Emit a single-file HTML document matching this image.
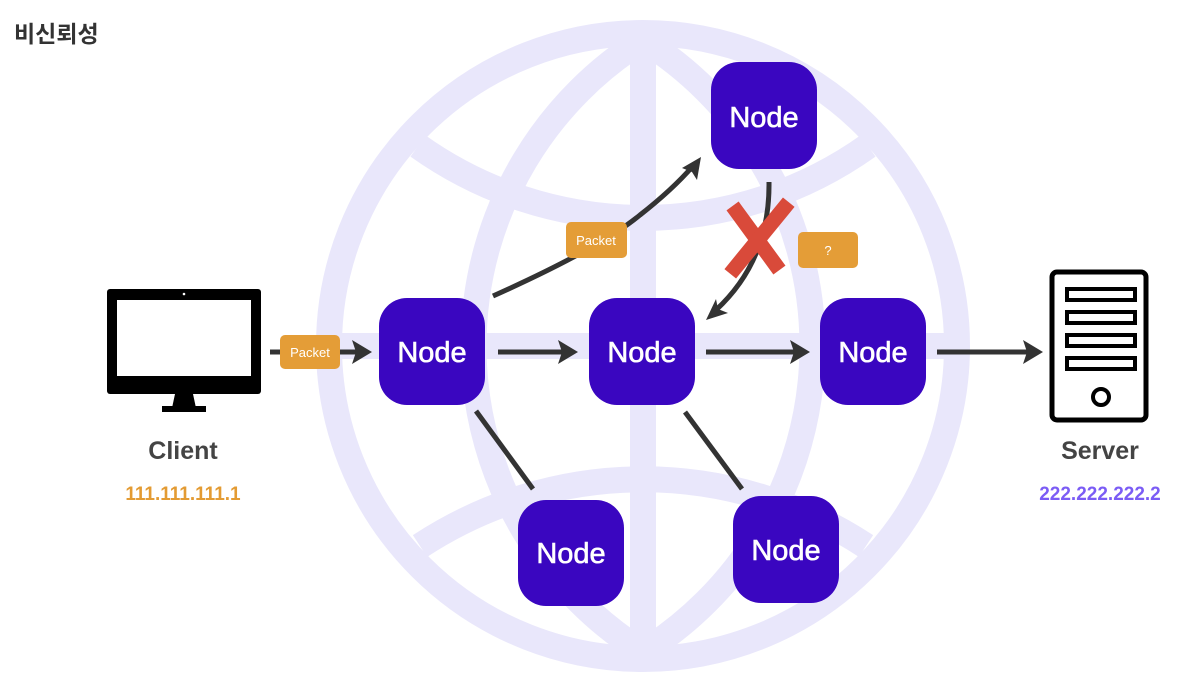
<!DOCTYPE html>
<html><head><meta charset="utf-8"><style>
html,body{margin:0;padding:0;background:#fff;}
svg{display:block;}
</style></head><body>
<svg width="1186" height="686" viewBox="0 0 1186 686" xmlns="http://www.w3.org/2000/svg" font-family="Liberation Sans, Noto Sans CJK KR, sans-serif">
<!-- globe -->
<g fill="none" stroke="#e9e7fb" stroke-width="26">
<ellipse cx="643" cy="346" rx="314" ry="313"/>
<path d="M643 40 A361 361 0 0 0 643 652"/>
<path d="M643 40 A361 361 0 0 1 643 652"/>
<line x1="643" y1="35" x2="643" y2="660"/>
<line x1="335" y1="346" x2="955" y2="346"/>
<path d="M418 146 A388 388 0 0 0 868 146"/>
<path d="M420 546 A406 406 0 0 1 866 546"/>
</g>
<text x="14" y="42" font-size="23" font-weight="bold" fill="#333">비신뢰성</text>
<!-- client monitor -->
<rect x="107" y="289" width="154" height="105" rx="3" fill="#000"/>
<rect x="117" y="300" width="134" height="76" fill="#fff"/>
<circle cx="184" cy="294" r="1.3" fill="#fff"/>
<polygon points="175,394 193,394 196,408 172,408" fill="#000"/>
<rect x="162" y="406" width="44" height="6" fill="#000"/>
<text x="183" y="459" font-size="25" font-weight="bold" fill="#444" text-anchor="middle">Client</text>
<text x="183" y="500" font-size="19" font-weight="bold" fill="#e39b33" text-anchor="middle">111.111.111.1</text>
<!-- server -->
<rect x="1052" y="272" width="94" height="148" rx="5" fill="none" stroke="#000" stroke-width="5"/>
<g fill="none" stroke="#000" stroke-width="4">
<rect x="1067" y="289" width="68" height="11"/>
<rect x="1067" y="312" width="68" height="11"/>
<rect x="1067" y="335" width="68" height="11"/>
<rect x="1067" y="358" width="68" height="11"/>
<circle cx="1101" cy="397" r="8"/>
</g>
<text x="1100" y="459" font-size="25" font-weight="bold" fill="#444" text-anchor="middle">Server</text>
<text x="1100" y="500" font-size="19" font-weight="bold" fill="#7b5cf5" text-anchor="middle">222.222.222.2</text>
<!-- connectors -->
<g stroke="#333" stroke-width="5" fill="none">
<line x1="270" y1="352" x2="360" y2="352"/>
<line x1="498" y1="352" x2="565" y2="352"/>
<line x1="706" y1="352" x2="798" y2="352"/>
<line x1="937" y1="352" x2="1030" y2="352"/>
<path d="M493 296 Q600 248 640 215 Q672 190 693 166"/>
<path d="M769 182 Q770 260 716 310"/>
<line x1="476" y1="411" x2="533" y2="489"/>
<line x1="685" y1="412" x2="742" y2="489"/>
</g>
<g fill="#333">
<polygon points="372,352 352,340 356,352 352,364"/>
<polygon points="578,352 558,340 562,352 558,364"/>
<polygon points="810,352 790,340 794,352 790,364"/>
<polygon points="1043,352 1023,340 1027,352 1023,364"/>
<polygon points="701,157 697,180 692,172 682,168"/>
<polygon points="706,320 716,299 718,309 728,313"/>
</g>
<!-- packets -->
<rect x="280" y="335" width="60" height="34" rx="5" fill="#e49d37"/>
<text x="310" y="357" font-size="13" fill="#fff" text-anchor="middle">Packet</text>
<rect x="566" y="222" width="61" height="36" rx="5" fill="#e49d37"/>
<text x="596" y="245" font-size="13" fill="#fff" text-anchor="middle">Packet</text>
<rect x="798" y="232" width="60" height="36" rx="5" fill="#e49d37"/>
<text x="828" y="255" font-size="13" fill="#fff" text-anchor="middle">?</text>
<!-- X -->
<g stroke="#d94a3a" stroke-width="15" stroke-linecap="square">
<line x1="737" y1="212" x2="775" y2="264"/>
<line x1="784" y1="208" x2="735" y2="268"/>
</g>
<!-- nodes -->
<g fill="#3a06c0">
<rect x="711" y="62" width="106" height="107" rx="28"/>
<rect x="379" y="298" width="106" height="107" rx="28"/>
<rect x="589" y="298" width="106" height="107" rx="28"/>
<rect x="820" y="298" width="106" height="107" rx="28"/>
<rect x="518" y="500" width="106" height="106" rx="28"/>
<rect x="733" y="496" width="106" height="107" rx="28"/>
</g>
<g fill="#fff" font-size="29" text-anchor="middle" stroke="#fff" stroke-width="0.6">
<text x="764" y="127">Node</text>
<text x="432" y="362">Node</text>
<text x="642" y="362">Node</text>
<text x="873" y="362">Node</text>
<text x="571" y="563">Node</text>
<text x="786" y="560">Node</text>
</g>
</svg>
</body></html>
